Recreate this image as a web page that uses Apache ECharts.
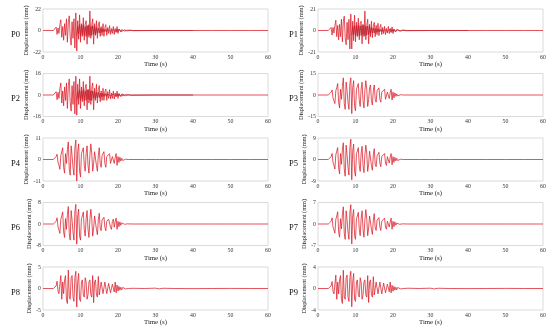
<!DOCTYPE html>
<html><head><meta charset="utf-8">
<script src="https://cdn.jsdelivr.net/npm/echarts/dist/echarts.min.js"></script>
<style>html,body{margin:0;padding:0;background:#fff}#c{width:550px;height:331px}</style>
</head><body><div id="c"></div>
<script>
const panelNames = ['P0','P1','P2','P3','P4','P5','P6','P7','P8','P9'];
const yLimits = [22,21,16,15,11,9,8,7,5,4];
const xTicks = [0,10,20,30,40,50,60];
const startTime = 3.0, step = 0.25;

const p0 = [0.5,-1.5,3.5,-4,2.5,-3,6,11,-7,4,-10,7,-5,12,-12,8,15,-6,-15,9,-8,12,-18,18,-21,10,-9,16,-12,7,-6,13,-10,6,10,-14,5,-7,20,-8,6,12,-14,7,-5,10,-8,5,9,-6,4,-5,7,-6,3,6,-5,3,-3,5,-4,2,-3,4,-4,2,-2,4,-3,1.5,2,-1.5,1,-1,0.8,-0.6,0.5,-0.4,0.3,-0.2];
const p1 = [0.4,-1.2,3,-4.5,3,-2.5,5,10,-6,5,-9,6,-6,11,-11,9,14,-7,-14,8,-9,11,-18,16,-18,9,-10,15,-11,8,-6,12,-9,7,9,-13,6,-6,19,-9,5,11,-13,6,-6,9,-7,4,8,-6,5,-4,7,-5,3,6,-4,3,-3,4,-4,2,-2.5,4,-3,2,-2,3.5,-3,1.5,2,-1.2,1,-0.8,0.7,-0.5,0.4,-0.3,0.3,-0.2];
const p2 = [0.3,-1,2.5,-3.5,2,-2.5,5,9,-6,3,-8,6,-4,9,-10,7,12,-5,-12,7,-7,10,-14,14,-15,8,-7,12,-10,6,-5,10,-8,5,8,-11,4,-6,14,-7,5,9,-11,5,-4,8,-6,4,7,-5,3,-4,5,-4,2.5,4.5,-4,2.5,-2.5,4,-3,1.5,-2.5,3,-3,1.5,-1.5,3,-2.5,1.2,1.5,-1.2,0.8,-0.7,0.6,-0.4,0.3,-0.3,0.2,-0.1];
const p3 = [0.3,-0.7,2,3.5,-2,-4,-6,3,5,8,-5,-9,4,-3,6,12,-6,-10,9,3,-5,-10,8,12,-13,5,10,-8,-11,4,5,8,-4,-8,4,9,-4,-9,3,10,4,-8,-3,5,7,-4,-7,3,7,-3,-5,3,3,5,-3,-5,2,3,3,4,-3,-4,2,3,-2.5,1.5,4,-3.5,2,-2,1.5,-1,0.8,-0.6,0.4,-0.3,0.2,-0.15,0.1,0];
const p4 = [0.2,-0.5,1.5,2.7,-1.5,-3,-5,2,4,6,-4,-7,3,-2,5,9,-5,-8,7,2,-4,-8,6,10,-11,4,8,-6,-9,3,4,6,-3,-6,3,7,-3,-7,2,8,3,-6,-2,4,5,-3,-6,2,6,-2,-4,2,2,4,-2,-4,1.5,2,2.5,3,-2,-3,1.5,2.5,-2,1,3,-3,1.5,-1.5,1.2,-0.8,0.6,-0.5,0.3,-0.2,0.15,-0.1,0.1,0];
const p5 = [0.2,-0.4,1.2,2.5,-1.2,-2.5,-4,2,3.5,5,-3.5,-6,2.5,-2,4,7,-4,-7,6,2,-3.5,-6.5,5,8.5,-8.5,3.5,6.5,-5,-7,2.5,3.5,5,-2.5,-5,2.5,5.5,-2.5,-5.5,2,6,2.5,-5,-2,3.5,4,-2.5,-4.5,2,4.5,-2,-3,1.5,2,3,-1.5,-3,1.2,1.5,2,2.5,-1.5,-2.5,1.2,2,-1.5,1,2.5,-2.2,1.2,-1.2,0.9,-0.6,0.5,-0.4,0.25,-0.15,0.1,-0.1,0.05,0];
const p6 = [0.2,-0.3,1,2.3,-1,-2.2,-3.5,1.8,3,4.5,-3,-5,2,-2,3.5,6.5,-3.5,-6,5,1.5,-3,-6,4.5,7.3,-7.5,3,5.5,-4.5,-6,2,3,4.5,-2,-4.5,2,5,-2,-5,1.5,5.5,2,-4.5,-1.5,3,3.5,-2,-4,1.5,4,-1.5,-2.5,1.5,1.5,2.5,-1.2,-2.5,1,1.2,1.8,2.2,-1.2,-2,1,1.8,-1.2,0.8,2.2,-2,1,-1,0.8,-0.5,0.4,-0.3,0.2,-0.1,0.1,-0.05,0.05,0];
const p7 = [0.15,-0.3,0.9,2,-0.9,-1.9,-3,1.5,2.6,4,-2.6,-4.3,1.7,-1.6,3,5.6,-3,-5,4.3,1.3,-2.6,-5,3.8,6.3,-6.5,2.6,4.7,-3.8,-5,1.7,2.6,3.8,-1.7,-3.8,1.7,4.3,-1.7,-4.3,1.3,4.7,1.7,-3.8,-1.3,2.6,3,-1.7,-3.4,1.3,3.4,-1.3,-2.1,1.3,1.3,2.1,-1,-2.1,0.9,1,1.5,1.9,-1,-1.7,0.9,1.5,-1,0.7,1.9,-1.7,0.9,-0.9,0.7,-0.4,0.3,-0.25,0.15,-0.1,0.08,-0.05,0.04,0];
const p8 = [0.1,-0.2,0.6,1.7,-0.6,-1.2,-1.5,3,-2.5,1.5,-1.2,2,3,-2.5,-3.5,4.3,-2,-2.5,2.5,3,-2,-3,2.5,4,-4.3,1.5,3.5,-2.5,-3,1.5,2,-1.5,-2,2.5,1.5,-2.5,-1.5,1.5,2,-1.5,-2,3,-3.3,1.5,2,-1.5,-2,2.8,-1.5,-1.8,1.5,1.8,-1.2,-1.5,1.5,1.2,-1.2,-1,1.2,1,-1,-0.8,1,1.3,-0.8,1.5,-1,0.8,-0.6,0.5,-0.4,0.3,-0.3,0.25,-0.2,0.15,-0.1,0.1,-0.05,0];
const p9 = [0.1,-0.2,0.5,1.3,-0.5,-1,-1.2,2.5,-2,1.2,-1,1.6,2.4,-2,-2.8,3.4,-1.6,-2,2,2.5,-1.6,-2.4,2,3.2,-3.4,1.2,2.8,-2,-2.4,1.2,1.6,-1.2,-1.6,2,1.2,-2,-1.2,1.2,1.6,-1.2,-1.6,2.4,-2.6,1.2,1.6,-1.2,-1.6,2.2,-1.2,-1.4,1.2,1.4,-1,-1.2,1.2,1,-1,-0.8,1,0.8,-0.8,-0.6,0.8,1,-0.6,1.2,-0.8,0.6,-0.5,0.4,-0.3,0.25,-0.25,0.2,-0.15,0.1,-0.08,0.08,-0.04,0];
const redValues = [p0,p1,p2,p3,p4,p5,p6,p7,p8,p9];

// darker trace (visible underneath in upper panels)
const darkStart = 9.0;
const dark0 = [-5,4,-3,6,-6,5,-4,6,-5,4,-6,5,-4,6,-5,4,-5,5,-4,4,-4,3,-3,2.5,-2.5,2,-2,2,-1.5,1.2,-1.2,1.2,-1.2,1,-1,1,-1,1,-1,1,-1,1.2,-1.2,1.2,-1.2,1,-1,0.9,-0.9,0.8,-0.7,0.6,-0.6,0.5,-0.4,0.4,-0.3,0.3,-0.2,0.2,-0.2];
const dark1 = [-4.5,4,-4,5,-5,4.5,-4.5,5,-5,4.5,-5,5,-4,5,-5,4,-4.5,4.5,-4,4,-3,3,-2.5,2.5,-2.5,2,-2,1.5,-1.5,1.2,-1.2,1.2,-1.1,1,-1,1,-0.9,0.9,-0.9,1,-1,1.1,-1.1,1.1,-1,1,-1,0.8,-0.8,0.7,-0.6,0.6,-0.5,0.4,-0.4,0.3,-0.3,0.25,-0.2,0.2,-0.1];
const dark2 = [-4,2.5,-2.5,4,-4,3,-3,4,-4,3,-4,4,-3,4,-4,3,-4,3,-2.5,2.5,-2.5,2,-2,2,-2,1.3,-1.3,1.3,-1.2,1,-1,1,-0.9,0.7,-0.7,0.7,-0.7,0.7,-0.7,0.7,-0.7,0.8,-0.8,0.8,-0.8,0.8,-0.8,0.6,-0.6,0.6,-0.5,0.5,-0.5,0.4,-0.3,0.3,-0.3,0.2,-0.2,0.15,-0.15];
const darkValues = [dark0,dark1,dark2,null,null,null,null,null,null,null];

const tailTimes = [24,27,30,31,32,35,40,45,50,55,60];
const tailFlat  = [0,0,0,0,0,0,0,0,0,0,0];
const tailP8    = [0.05,0,0.08,-0.1,0.06,0,-0.03,0,0.02,0,0];
const tailP9    = [0.05,0,0.06,-0.08,0.05,0,-0.02,0,0.02,0,0];
const tailValues = [tailFlat,tailFlat,tailFlat,tailFlat,tailFlat,tailFlat,tailFlat,tailFlat,tailP8,tailP9];

function buildRed(i){
  const pts = [[0,0],[startTime-0.25,0]];
  redValues[i].forEach((v,k)=>pts.push([startTime+k*step, v]));
  tailTimes.forEach((t,k)=>pts.push([t, tailValues[i][k]]));
  return pts;
}
function buildDark(i){
  const pts = [];
  darkValues[i].forEach((v,k)=>pts.push([darkStart+k*step, v]));
  pts.push([30,0]); pts.push([40,0]);
  return pts;
}

const FONT = 'Liberation Serif';
const rowTops = [9, 73.5, 138, 202.5, 267];
const grids=[], xAxes=[], yAxes=[], series=[], titles=[];
for(let i=0;i<10;i++){
  const col=i%2, row=Math.floor(i/2);
  const left = col ? 318 : 43;
  const top = rowTops[row];
  grids.push({left:left, top:top, width:225, height:43, show:true, borderColor:'#cccccc', borderWidth:0.7, containLabel:false});
  xAxes.push({gridIndex:i, type:'value', min:0, max:60, interval:10,
    axisLine:{show:false}, axisTick:{show:false}, splitLine:{show:false},
    axisLabel:{fontSize:5.8, margin:2, color:'#333', fontFamily:FONT},
    name:'Time (s)', nameLocation:'middle', nameGap:8,
    nameTextStyle:{fontSize:6.8, color:'#222', fontFamily:FONT}});
  const L = yLimits[i];
  yAxes.push({gridIndex:i, type:'value', min:-L, max:L, interval:L,
    axisLine:{show:false}, axisTick:{show:false}, splitLine:{show:false},
    axisLabel:{fontSize:5.8, margin:2, color:'#333', fontFamily:FONT},
    name:'Displacement (mm)', nameLocation:'middle', nameRotate:90, nameGap:11,
    nameTextStyle:{fontSize:6.3, color:'#222', fontFamily:FONT}});
  if(darkValues[i]){
    series.push({type:'line', xAxisIndex:i, yAxisIndex:i, data:buildDark(i), showSymbol:false, silent:true,
      lineStyle:{color:'#7a0010', width:0.7, opacity:0.9}, z:2});
  }
  series.push({type:'line', xAxisIndex:i, yAxisIndex:i, data:buildRed(i), showSymbol:false, silent:true,
    lineStyle:{color:'#dc1e2a', width:0.85, opacity:0.9}, z:3});
  titles.push({text:panelNames[i], left: col ? 284 : 6, top: top+16,
    textStyle:{fontSize:8.5, fontWeight:'normal', color:'#111', fontFamily:FONT}});
}

const chart = echarts.init(document.getElementById('c'), null, {renderer:'canvas'});
chart.setOption({animation:false, backgroundColor:'#fff', title:titles, grid:grids, xAxis:xAxes, yAxis:yAxes, series:series});
</script></body></html>
